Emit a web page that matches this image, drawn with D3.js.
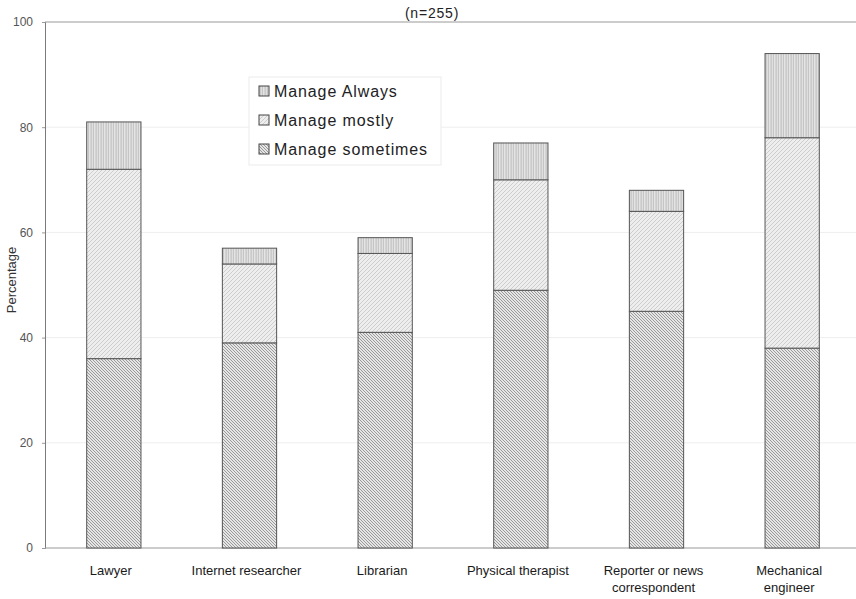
<!DOCTYPE html>
<html><head><meta charset="utf-8">
<script src="https://cdn.jsdelivr.net/npm/d3@7"></script>
<style>
body{margin:0;background:#fff;}
text{font-family:"Liberation Sans",Arial,sans-serif;}
</style></head>
<body>
<svg id="chart" width="856" height="599"></svg>
<script>
const categories = ["Lawyer","Internet researcher","Librarian","Physical therapist","Reporter or news\ncorrespondent","Mechanical\nengineer"];
const seriesNames = ["Manage sometimes","Manage mostly","Manage Always"];
const sometimes = [36,39,41,49,45,38];
const mostly = [36,15,15,21,19,40];
const always = [9,3,3,7,4,16];
const yTicks = [0,20,40,60,80,100];
const title = "(n=255)";
const yLabel = "Percentage";

const svg = d3.select("#chart");
const defs = svg.append("defs");

function pat(id, bg, line, d, size, w){
  const p = defs.append("pattern").attr("id",id).attr("patternUnits","userSpaceOnUse")
    .attr("width",size).attr("height",size);
  p.append("rect").attr("width",size).attr("height",size).attr("fill",bg);
  p.append("path").attr("d",d).attr("stroke",line).attr("stroke-width",w).attr("fill","none");
}
pat("pAlways","#e8e8e8","#a8a8a8","M1,0V4",2.5,0.8);
pat("pMostly","#eeeeee","#c4c4c4","M0,4L4,0M-1,1L1,-1M3,5L5,3",4,0.8);
pat("pSometimes","#e6e6e6","#858585","M0,0L3,3M-1,2L1,4M2,-1L4,1",3,0.8);

const fills = {"Manage sometimes":"url(#pSometimes)","Manage mostly":"url(#pMostly)","Manage Always":"url(#pAlways)"};

const x = d3.scaleBand().domain(categories).range([46,860]).paddingInner(0.6).paddingOuter(0.3);
const y = d3.scaleLinear().domain([0,100]).range([548,22]);

svg.append("g").selectAll("line").data(yTicks.filter(t=>t>0&&t<100)).join("line")
  .attr("x1",45).attr("x2",856).attr("y1",d=>y(d)).attr("y2",d=>y(d))
  .attr("stroke","#eeeeee").attr("stroke-width",1);

svg.append("line").attr("x1",45).attr("x2",856).attr("y1",y(100)).attr("y2",y(100))
  .attr("stroke","#9a9a9a").attr("stroke-width",1.2);

const yAxis = d3.axisLeft(y).tickValues(yTicks).tickSize(3).tickPadding(9);
const ga = svg.append("g").attr("transform","translate(45,0)").call(yAxis);
ga.select(".domain").attr("stroke","#7a7a7a");
ga.selectAll(".tick line").attr("stroke","#9a9a9a");
ga.selectAll("text").attr("font-size",12).attr("fill","#555")
  .attr("font-family","'Liberation Sans',Arial,sans-serif");

svg.append("line").attr("x1",45).attr("x2",856).attr("y1",y(0)).attr("y2",y(0))
  .attr("stroke","#9a9a9a").attr("stroke-width",1.2);

const rows = categories.map((c,i)=>({cat:c,"Manage sometimes":sometimes[i],"Manage mostly":mostly[i],"Manage Always":always[i]}));
const stack = d3.stack().keys(seriesNames)(rows);

svg.append("g").selectAll("g").data(stack).join("g")
  .attr("fill",d=>fills[d.key])
  .selectAll("rect").data(d=>d).join("rect")
  .attr("x",d=>x(d.data.cat)).attr("width",x.bandwidth())
  .attr("y",d=>y(d[1])).attr("height",d=>y(d[0])-y(d[1]))
  .attr("stroke","#555").attr("stroke-width",1);

const xl = svg.append("g").selectAll("text").data(categories).join("text")
  .attr("x",d=>x(d)+x.bandwidth()/2 - 3).attr("y",575)
  .attr("text-anchor","middle").attr("font-size",13).attr("fill","#1a1a1a");
xl.each(function(d){
  const lines = d.split("\n");
  d3.select(this).selectAll("tspan").data(lines).join("tspan")
    .attr("x",x(d)+x.bandwidth()/2 - 3).attr("dy",(l,i)=>i===0?0:17).text(l=>l);
});

svg.append("text").attr("x",432).attr("y",18).attr("text-anchor","middle")
  .attr("font-size",14).attr("letter-spacing",0.8).attr("fill","#222").text(title);

svg.append("text").attr("transform","translate(16,280) rotate(-90)")
  .attr("text-anchor","middle").attr("font-size",13).attr("fill","#333").text(yLabel);

const leg = svg.append("g");
leg.append("rect").attr("x",249).attr("y",77).attr("width",192).attr("height",88)
  .attr("fill","#fff").attr("stroke","#ebebeb");
const legItems = ["Manage Always","Manage mostly","Manage sometimes"];
const li = leg.selectAll("g").data(legItems).join("g")
  .attr("transform",(d,i)=>`translate(259,${91+i*29})`);
li.append("rect").attr("x",0).attr("y",-5).attr("width",10).attr("height",10)
  .attr("fill",d=>fills[d]).attr("stroke","#444").attr("stroke-width",1);
li.append("text").attr("x",15).attr("y",6).attr("font-size",16).attr("letter-spacing",0.9)
  .attr("fill","#222").text(d=>d);
</script>
</body></html>
